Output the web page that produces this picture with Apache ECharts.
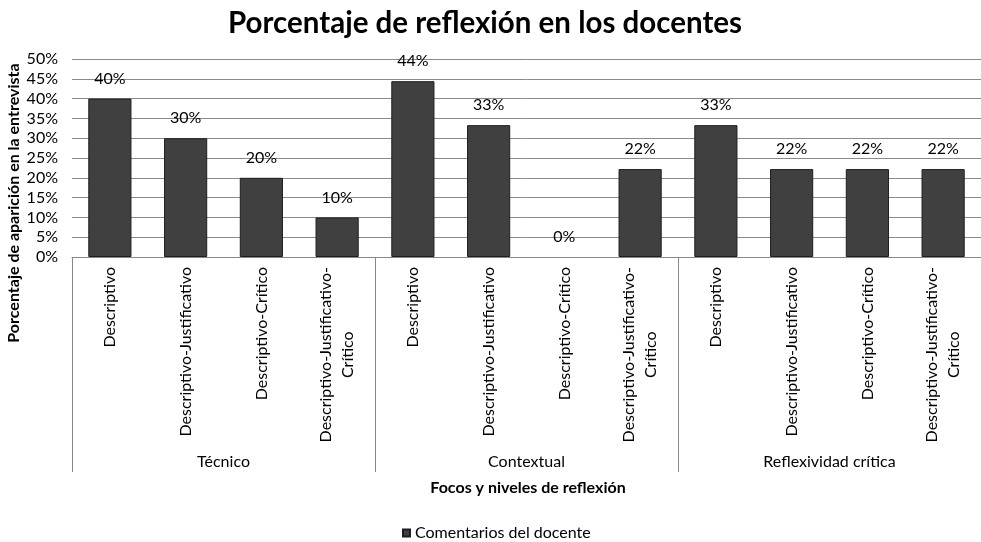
<!DOCTYPE html>
<html>
<head>
<meta charset="utf-8">
<script src="https://cdn.jsdelivr.net/npm/echarts@6/dist/echarts.min.js"></script>
<style>html,body{margin:0;padding:0;background:#fff}#c{width:981px;height:542px}</style>
</head>
<body>
<div id="c"></div>
<script>
const categories = [
  'Descriptivo', 'Descriptivo-Justificativo', 'Descriptivo-Crítico', 'Descriptivo-Justificativo-\nCrítico',
  'Descriptivo', 'Descriptivo-Justificativo', 'Descriptivo-Crítico', 'Descriptivo-Justificativo-\nCrítico',
  'Descriptivo', 'Descriptivo-Justificativo', 'Descriptivo-Crítico', 'Descriptivo-Justificativo-\nCrítico'
];
const groups = ['Técnico', 'Contextual', 'Reflexividad crítica'];
const values = [40, 30, 20, 10, 44.4, 33.3, 0, 22.2, 33.3, 22.2, 22.2, 22.2];
const yTicks = { min: 0, max: 50, interval: 5 };
const seriesName = 'Comentarios del docente';

const FONT = 'Lato';
const FS = 16;
const chart = echarts.init(document.getElementById('c'));
chart.setOption({
  animation: false,
  backgroundColor: '#fff',
  textStyle: { fontFamily: FONT },
  title: {
    text: 'Porcentaje de reflexión en los docentes',
    left: 480, top: 3, textAlign: 'center',
    textStyle: { fontFamily: FONT, fontWeight: 'bold', fontSize: 29.5, color: '#000' }
  },
  legend: {
    data: [seriesName],
    left: 397, top: 520,
    icon: 'rect', itemWidth: 7, itemHeight: 7, itemGap: 5,
    textStyle: { fontFamily: FONT, fontSize: FS, color: '#000' }
  },
  grid: { left: 72, right: -3, top: 59, bottom: 285, containLabel: false },
  xAxis: [
    {
      type: 'category', data: categories, position: 'bottom',
      axisLine: { show: true, lineStyle: { color: '#888', width: 1 } },
      axisTick: { show: false },
      axisLabel: {
        interval: 0, rotate: 90, margin: 10, color: '#000', fontFamily: FONT, fontSize: FS,
        lineHeight: 22,
        formatter: function (v) {
          if (v.indexOf('\n') >= 0) {
            return v.split('\n').map(function (s) { return '{c|' + s + '}'; }).join('\n');
          }
          return v;
        },
        rich: { c: { align: 'center', fontFamily: FONT, fontSize: FS, color: '#000', lineHeight: 22 } }
      }
    },
    {
      type: 'category', data: groups, position: 'bottom', offset: 0,
      axisLine: { show: false },
      axisTick: { show: true, length: 215, lineStyle: { color: '#888', width: 1 } },
      axisLabel: { margin: 197, color: '#000', fontFamily: FONT, fontSize: FS }
    }
  ],
  yAxis: {
    type: 'value', min: yTicks.min, max: yTicks.max, interval: yTicks.interval,
    axisLine: { show: false }, axisTick: { show: false },
    axisLabel: { formatter: '{value}%', color: '#000', fontFamily: FONT, fontSize: FS, margin: 14 },
    splitLine: { lineStyle: { color: '#8a8a8a', width: 1 } }
  },
  series: [{
    name: seriesName, type: 'bar', xAxisIndex: 0,
    data: values.map(function (v) {
      return { value: v, itemStyle: { borderWidth: v === 0 ? 0 : 1 } };
    }),
    barCategoryGap: '43%',
    itemStyle: { color: '#404040', borderColor: '#1e1e1e', borderWidth: 1 },
    label: {
      show: true, position: 'top', distance: 12, color: '#000', fontFamily: FONT, fontSize: FS,
      formatter: function (p) { return Math.round(p.value) + '%'; }
    }
  }],
  graphic: [
    {
      type: 'text', x: 14, y: 203, rotation: Math.PI / 2,
      style: { text: 'Porcentaje de aparición en la entrevista', font: 'bold 16px ' + FONT, fill: '#000', align: 'center', verticalAlign: 'middle' }
    },
    {
      type: 'text', x: 528, y: 488,
      style: { text: 'Focos y niveles de reflexión', font: 'bold 16px ' + FONT, fill: '#000', align: 'center', verticalAlign: 'middle' }
    }
  ]
});
</script>
</body>
</html>
